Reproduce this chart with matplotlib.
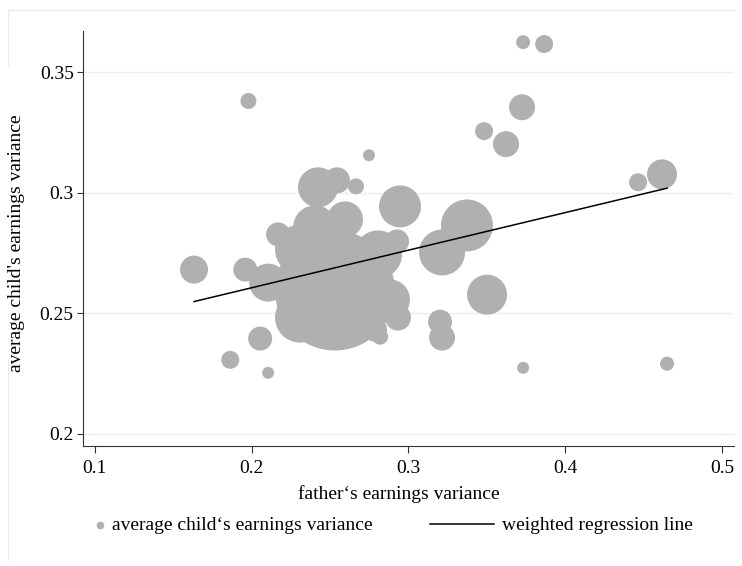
import numpy as np
import matplotlib
matplotlib.use("Agg")
import matplotlib.pyplot as plt
from matplotlib.lines import Line2D

plt.rcParams['font.family'] = ['Liberation Serif', 'DejaVu Serif']

# father's variance, average child's variance, weight (bubble size)
father_var = [0.1633, 0.198, 0.1864, 0.2106, 0.2055, 0.1960, 0.2424, 0.2545,
              0.2666, 0.2749, 0.2947, 0.3374, 0.3215, 0.3502, 0.3202, 0.3215,
              0.3732, 0.3732, 0.3866, 0.3725, 0.3483, 0.3623, 0.4465, 0.4618,
              0.4650, 0.2532, 0.2169, 0.2106, 0.2309, 0.2788, 0.2820, 0.2883,
              0.2928, 0.2807, 0.2405, 0.2596, 0.2309, 0.2934]
child_var = [0.2681, 0.338, 0.2307, 0.2253, 0.2395, 0.2681, 0.3022, 0.3051,
             0.3026, 0.3155, 0.2943, 0.2864, 0.2752, 0.2577, 0.2465, 0.2399,
             0.2274, 0.3624, 0.3616, 0.3354, 0.3255, 0.3201, 0.3043, 0.3076,
             0.2291, 0.2594, 0.2827, 0.2627, 0.2482, 0.2432, 0.2403, 0.2557,
             0.2798, 0.2744, 0.2856, 0.2889, 0.2764, 0.2482]
weight = [196, 64, 81, 36, 144, 144, 400, 169,
          64, 36, 441, 676, 529, 400, 144, 169,
          36, 49, 81, 169, 81, 169, 81, 225,
          49, 3600, 144, 361, 625, 144, 64, 400,
          144, 576, 484, 324, 625, 169]

# weighted regression line
reg_intercept = 0.2294
reg_slope = 0.1558

xticks = [0.1, 0.2, 0.3, 0.4, 0.5]
yticks = [0.2, 0.25, 0.3, 0.35]

W, H = 742, 566
fs = 14
fig = plt.figure(figsize=(W / 100, H / 100), dpi=100)
ax = fig.add_axes([82.7 / W, 1 - 445.7 / H, (734 - 82.7) / W, (445.7 - 31) / H])

bubble = '#b0b0b0'
ax.scatter(father_var, child_var, s=np.array(weight) * 2.07, color=bubble,
           edgecolors='none', zorder=2)

xs = np.array([min(father_var), max(father_var)])
ax.plot(xs, reg_intercept + reg_slope * xs, color='black', lw=1.1, zorder=3)

ax.set_xlim(0.0923, 0.5077)
ax.set_ylim(0.1951, 0.367)
ax.set_xticks(xticks)
ax.set_xticklabels(['0.1', '0.2', '0.3', '0.4', '0.5'])
ax.set_yticks(yticks)
ax.set_yticklabels(['0.2', '0.25', '0.3', '0.35'])
ax.grid(axis='y', color='#eaf0f0', lw=1.0, zorder=0)
ax.set_axisbelow(True)

for s in ['top', 'right']:
    ax.spines[s].set_visible(False)
for s in ['left', 'bottom']:
    ax.spines[s].set_color('#333333')
    ax.spines[s].set_linewidth(0.8)
ax.tick_params(axis='both', colors='#333333', labelcolor='black', width=0.8,
               labelsize=fs)
ax.tick_params(axis='x', length=5, pad=5)
ax.tick_params(axis='y', length=4.5, pad=2)

fig.text(399 / W, 1 - 494 / H, 'father\u2018s earnings variance', ha='center',
         va='center', fontsize=fs)
fig.text(17 / W, 1 - 243 / H, "average child's earnings variance", ha='center',
         va='center', rotation=90, fontsize=fs)

# legend
fig.add_artist(Line2D([100 / W], [1 - 525 / H], marker='o', ms=5.5, color=bubble,
                      mec='none', ls='none', transform=fig.transFigure))
fig.text(112 / W, 1 - 525 / H, 'average child\u2018s earnings variance',
         ha='left', va='center', fontsize=fs)
fig.add_artist(Line2D([430 / W, 494 / W], [1 - 524 / H, 1 - 524 / H],
                      color='black', lw=1.1, transform=fig.transFigure))
fig.text(502 / W, 1 - 525 / H, 'weighted regression line', ha='left',
         va='center', fontsize=fs)

# faint outer border
border = '#e6ecec'
fig.add_artist(Line2D([8 / W, 735 / W], [1 - 10 / H, 1 - 10 / H], color=border,
                      lw=0.8, transform=fig.transFigure))
fig.add_artist(Line2D([8 / W, 8 / W], [1 - 10 / H, 1 - 65 / H], color=border,
                      lw=0.8, transform=fig.transFigure))
fig.add_artist(Line2D([8 / W, 8 / W], [1 - 360 / H, 1 - 560 / H], color=border,
                      lw=0.8, transform=fig.transFigure))

fig.savefig('out.png', dpi=100)
